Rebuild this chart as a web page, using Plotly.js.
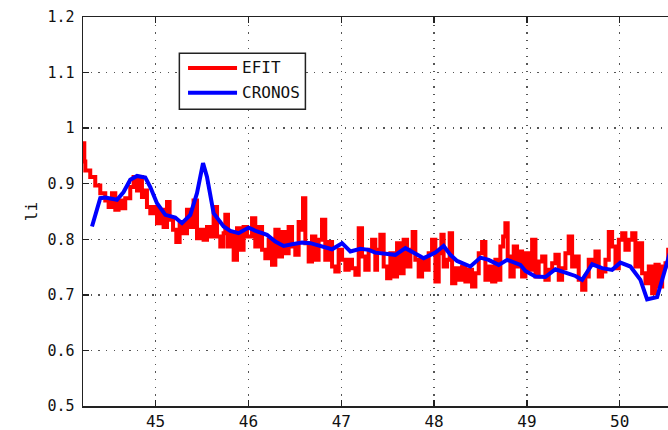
<!DOCTYPE html>
<html>
<head>
<meta charset="utf-8">
<script src="https://cdn.plot.ly/plotly-3.0.1.min.js"></script>
<style>
  html, body { margin: 0; padding: 0; background: #fff; overflow: hidden; }
  #chart { width: 720px; height: 430px; }
</style>
</head>
<body>
<div id="chart"></div>
<script>
// Internal inductance li versus time (s): EFIT reconstruction and CRONOS simulation
const efitTime = [
  44.218, 44.232, 44.243, 44.296, 44.350, 44.404, 44.458, 44.494, 44.530, 44.566,
  44.601, 44.638, 44.673, 44.727, 44.763, 44.800, 44.828, 44.853, 44.889, 44.907,
  44.943, 44.978, 45.015, 45.051, 45.086, 45.123, 45.151, 45.188, 45.223, 45.259,
  45.302, 45.338, 45.374, 45.409, 45.446, 45.482, 45.517, 45.554, 45.589, 45.625,
  45.662, 45.697, 45.733, 45.751, 45.780, 45.805, 45.841, 45.877, 45.913, 45.948,
  45.985, 46.039, 46.074, 46.110, 46.147, 46.182, 46.218, 46.254, 46.290, 46.325,
  46.362, 46.398, 46.433, 46.470, 46.505, 46.541, 46.567, 46.588, 46.613, 46.649,
  46.685, 46.721, 46.756, 46.793, 46.828, 46.864, 46.901, 46.936, 46.972, 47.009,
  47.044, 47.080, 47.116, 47.152, 47.188, 47.224, 47.259, 47.295, 47.332, 47.367,
  47.386, 47.421, 47.457, 47.494, 47.529, 47.565, 47.601, 47.637, 47.672, 47.709,
  47.745, 47.769, 47.798, 47.834, 47.871, 47.906, 47.942, 47.978, 48.014, 48.050,
  48.079, 48.103, 48.140, 48.168, 48.194, 48.229, 48.265, 48.302, 48.337, 48.373,
  48.409, 48.445, 48.481, 48.517, 48.553, 48.588, 48.625, 48.660, 48.685, 48.714,
  48.744, 48.768, 48.793, 48.822, 48.858, 48.894, 48.922, 48.948, 48.984, 49.019,
  49.056, 49.092, 49.127, 49.164, 49.199, 49.235, 49.272, 49.307, 49.343, 49.379,
  49.415, 49.450, 49.487, 49.523, 49.558, 49.595, 49.630, 49.666, 49.703, 49.738,
  49.774, 49.810, 49.846, 49.882, 49.918, 49.954, 49.990, 50.026, 50.061, 50.097,
  50.134, 50.169, 50.205, 50.241, 50.277, 50.313, 50.349, 50.385, 50.420, 50.457,
  50.493, 50.522, 50.560, 50.600
];
const efitLi = [
  0.973, 0.940, 0.924, 0.912, 0.897, 0.883, 0.870, 0.858, 0.883, 0.853,
  0.870, 0.856, 0.874, 0.894, 0.912, 0.888, 0.912, 0.876, 0.888, 0.858,
  0.847, 0.858, 0.829, 0.853, 0.822, 0.867, 0.835, 0.817, 0.795, 0.829,
  0.811, 0.853, 0.822, 0.870, 0.802, 0.817, 0.799, 0.822, 0.805, 0.858,
  0.805, 0.787, 0.811, 0.844, 0.787, 0.811, 0.763, 0.820, 0.781, 0.822,
  0.805, 0.838, 0.787, 0.822, 0.781, 0.766, 0.799, 0.754, 0.817, 0.769,
  0.813, 0.775, 0.822, 0.787, 0.772, 0.831, 0.817, 0.874, 0.793, 0.760,
  0.805, 0.763, 0.799, 0.835, 0.763, 0.795, 0.751, 0.742, 0.781, 0.763,
  0.745, 0.763, 0.748, 0.736, 0.820, 0.769, 0.745, 0.781, 0.799, 0.745,
  0.781, 0.808, 0.751, 0.730, 0.775, 0.733, 0.793, 0.739, 0.799, 0.751,
  0.781, 0.813, 0.763, 0.733, 0.766, 0.745, 0.775, 0.799, 0.724, 0.775,
  0.808, 0.751, 0.763, 0.811, 0.721, 0.748, 0.727, 0.751, 0.724, 0.745,
  0.715, 0.739, 0.775, 0.795, 0.727, 0.751, 0.724, 0.763, 0.727, 0.787,
  0.805, 0.829, 0.769, 0.733, 0.787, 0.751, 0.778, 0.733, 0.775, 0.745,
  0.799, 0.733, 0.760, 0.769, 0.727, 0.745, 0.757, 0.772, 0.727, 0.748,
  0.775, 0.805, 0.751, 0.769, 0.727, 0.709, 0.733, 0.763, 0.757, 0.778,
  0.733, 0.742, 0.763, 0.813, 0.787, 0.748, 0.799, 0.811, 0.781, 0.799,
  0.811, 0.751, 0.793, 0.739, 0.721, 0.751, 0.703, 0.754, 0.715, 0.751,
  0.757, 0.781, 0.800, 0.790
];

const cronosTime = [
  44.315, 44.404, 44.458, 44.584, 44.655, 44.727, 44.800, 44.889, 44.943, 45.015,
  45.105, 45.212, 45.284, 45.374, 45.446, 45.511, 45.554, 45.625, 45.733, 45.805,
  45.894, 46.002, 46.093, 46.200, 46.290, 46.379, 46.470, 46.578, 46.667, 46.793,
  46.901, 47.009, 47.098, 47.206, 47.295, 47.367, 47.457, 47.583, 47.691, 47.780,
  47.888, 48.014, 48.103, 48.176, 48.248, 48.391, 48.499, 48.588, 48.696, 48.787,
  48.930, 48.984, 49.092, 49.199, 49.307, 49.415, 49.523, 49.595, 49.703, 49.810,
  49.918, 50.007, 50.115, 50.223, 50.295, 50.403, 50.457, 50.528, 50.600
];
const cronosLi = [
  0.823, 0.874, 0.875, 0.871, 0.885, 0.907, 0.914, 0.911, 0.894, 0.865,
  0.844, 0.839, 0.829, 0.844, 0.883, 0.937, 0.912, 0.847, 0.823, 0.815,
  0.811, 0.821, 0.814, 0.808, 0.796, 0.788, 0.791, 0.794, 0.793, 0.788,
  0.782, 0.793, 0.778, 0.783, 0.781, 0.776, 0.775, 0.772, 0.784, 0.775,
  0.766, 0.776, 0.788, 0.772, 0.761, 0.751, 0.767, 0.763, 0.754, 0.763,
  0.754, 0.743, 0.733, 0.732, 0.746, 0.740, 0.734, 0.727, 0.755, 0.748,
  0.745, 0.758, 0.751, 0.727, 0.692, 0.696, 0.727, 0.769, 0.810
];

const xTickVals = [45, 46, 47, 48, 49, 50];
const yTickVals = [0.5, 0.6, 0.7, 0.8, 0.9, 1, 1.1, 1.2];
const seriesNames = ['EFIT', 'CRONOS'];
const yLabel = 'li';

const monoFont = '"DejaVu Sans Mono", "Liberation Mono", monospace';

const traces = [
  {
    x: efitTime, y: efitLi, name: seriesNames[0], type: 'scatter', mode: 'lines',
    line: { color: '#ff0000', width: 4, shape: 'hv' }
  },
  {
    x: cronosTime, y: cronosLi, name: seriesNames[1], type: 'scatter', mode: 'lines',
    line: { color: '#0000ff', width: 4 }
  }
];

// legend drawn in paper coordinates so its sample lines can be long
const legendBox = { x0: 0.1577, x1: 0.3640, y0: 0.7627, y1: 0.9067 };
const legendRows = [0.8689, 0.8054];
const legendColors = ['#ff0000', '#0000ff'];

const shapes = [
  {
    type: 'rect', xref: 'paper', yref: 'paper', layer: 'above',
    x0: legendBox.x0, x1: legendBox.x1, y0: legendBox.y0, y1: legendBox.y1,
    line: { color: '#222', width: 1.5 }, fillcolor: '#ffffff'
  }
];
const annotations = [];
legendRows.forEach(function (yy, i) {
  shapes.push({
    type: 'line', xref: 'paper', yref: 'paper', layer: 'above',
    x0: 0.1719, x1: 0.2521, y0: yy, y1: yy,
    line: { color: legendColors[i], width: 4 }
  });
  annotations.push({
    xref: 'paper', yref: 'paper', x: 0.2570, y: yy, xanchor: 'left', yanchor: 'middle',
    text: seriesNames[i], showarrow: false,
    font: { family: monoFont, size: 16, color: '#111' }
  });
});

const axisCommon = {
  showline: true, linecolor: '#222', linewidth: 1.5, mirror: 'ticks',
  ticks: 'inside', ticklen: 6, tickwidth: 1.5, tickcolor: '#222',
  showgrid: true, gridcolor: '#555', gridwidth: 1.3, griddash: '1.3px,6.4px',
  zeroline: false, tickmode: 'array'
};

const layout = {
  width: 720, height: 430,
  margin: { l: 83, r: 26, t: 17, b: 24 },
  paper_bgcolor: '#ffffff', plot_bgcolor: '#ffffff',
  showlegend: false,
  font: { family: monoFont, size: 16, color: '#111' },
  xaxis: Object.assign({}, axisCommon, {
    range: [44.218, 50.8], tickvals: xTickVals,
    tickfont: { family: monoFont, size: 16, color: '#111' }
  }),
  yaxis: Object.assign({}, axisCommon, {
    range: [0.5, 1.2], tickvals: yTickVals,
    ticklabelstandoff: 4,
    tickfont: { family: monoFont, size: 15, color: '#111' },
    title: { text: yLabel, standoff: 6, font: { family: monoFont, size: 16, color: '#111' } }
  }),
  shapes: shapes,
  annotations: annotations
};

Plotly.newPlot('chart', traces, layout, { displayModeBar: false, staticPlot: true, responsive: false });
</script>
</body>
</html>
